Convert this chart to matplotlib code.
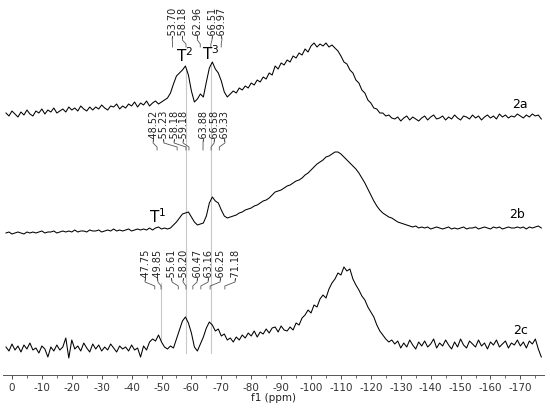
import numpy as np
import matplotlib
matplotlib.use("Agg")
import matplotlib.pyplot as plt

# chemical shift grid (ppm), one point per ppm from +2 down to -177
ppm = np.arange(2, -178, -1)

# spectrum 2a (intensity above its own baseline)
spec_2a = [
    6, 3, 8, 5, 2, 7, 4, 9, 5, 3,
    8, 6, 10, 5, 9, 7, 11, 6, 8, 10,
    7, 12, 9, 11, 8, 13, 10, 8, 12, 9,
    12, 10, 14, 11, 9, 13, 12, 15, 10, 13,
    11, 15, 13, 17, 12, 16, 14, 18, 13, 16,
    18, 15, 17, 19, 21, 26, 35, 43, 46, 49,
    53, 44, 28, 17, 20, 25, 22, 37, 51, 57,
    50, 46, 38, 27, 22, 25, 28, 26, 31, 29,
    33, 31, 36, 34, 39, 37, 42, 40, 46, 44,
    53, 50, 56, 54, 59, 57, 63, 61, 66, 64,
    70, 67, 73, 76, 72, 75, 73, 76, 72, 74,
    71, 68, 63, 57, 55, 49, 46, 39, 36, 29,
    26, 19, 16, 11, 10, 6, 6, 3, 4, 1,
    0, 2, -2, 1, 3, -1, 2, 0, -2, 1,
    3, -1, 2, 4, 0, 1, 3, -1, 2, 0,
    4, 1, -1, 3, 2, 0, 4, 1, 3, -1,
    2, 4, 1, 3, 0, 5, 2, 4, 1, 3,
    2, 5, 3, 1, 4, 2, 5, 3, 4, 0,
]

# spectrum 2b
spec_2b = [
    -5, -4, -6, -5, -4, -5, -6, -4, -5, -4,
    -5, -4, -3, -5, -4, -4, -3, -5, -4, -3,
    -4, -3, -4, -2, -4, -3, -3, -4, -2, -3,
    -3, -2, -4, -3, -2, -3, -1, -3, -2, -3,
    -2, -1, -3, -2, -1, -2, -1, -2, 0, -2,
    0, 1, -1, 0, -1, 0, 3, 6, 10, 14,
    15, 16, 11, 6, 3, 4, 5, 12, 25, 31,
    27, 25, 18, 12, 10, 11, 12, 13, 15, 16,
    18, 19, 20, 22, 23, 25, 27, 28, 30, 33,
    36, 37, 38, 40, 42, 43, 45, 47, 48, 50,
    53, 55, 58, 61, 64, 66, 68, 71, 72, 74,
    76, 76, 74, 71, 68, 65, 62, 59, 55, 50,
    45, 39, 33, 27, 22, 18, 15, 13, 11, 10,
    8, 6, 5, 4, 3, 2, 1, 2, 0, 1,
    0, 1, -1, 0, 1, 0, -1, 0, 1, -1,
    0, -1, 0, 1, -1, 0, 0, 1, -1, 0,
    1, 0, -1, 1, 0, 1, -1, 0, 1, 0,
    0, 1, 0, 1, -1, 1, 0, 1, 2, 0,
]

# spectrum 2c
spec_2c = [
    -2, -6, 1, -5, -1, -7, 0, -4, 2, -5,
    -3, -8, -1, -4, -12, -2, -6, 0, -5, -2,
    7, -13, 5, -4, -1, -6, 2, -3, -7, 1,
    -4, 0, -6, -2, -5, 1, -3, -7, -1, -4,
    -2, -6, 0, -5, -3, -12, -1, -5, 3, 6,
    4, 10, 3, -2, -4, -1, -3, 6, 15, 24,
    28, 22, 12, -2, -6, 1, 8, 17, 23, 20,
    14, 16, 9, 11, 5, 7, 3, 8, 5, 10,
    7, 12, 9, 14, 8, 13, 11, 16, 12, 17,
    18, 13, 19, 15, 14, 18, 15, 22, 20, 27,
    30, 35, 32, 40, 38, 46, 50, 47, 56, 62,
    66, 72, 70, 78, 74, 76, 66, 60, 55, 49,
    45, 38, 33, 28, 20, 14, 10, 6, 3, 5,
    1, 4, -3, 2, -2, 5, 0, -4, 3, -1,
    4, -2, 1, 6, -3, 2, -1, 5, 0, -4,
    3, -2, 6, 0, -3, 4, 1, -2, 5, -1,
    2, -4, 3, 0, 5, -2, 1, 4, -3, 2,
    0, 5, -1, 3, -3, 4, 1, 6, -4, -12,
]

# peak picks
peaks_2a = [-53.70, -58.18, -62.96, -66.51, -69.97]
peaks_2b = [-48.52, -55.23, -58.18, -59.18, -63.88, -66.58, -69.33]
peaks_2c = [-47.75, -49.85, -55.61, -58.20, -60.47, -63.16, -66.25, -71.18]

# where the labels sit (spread apart so they don't overlap)
labx_2a = [-53.6, -57.0, -62.0, -66.9, -70.2]
labx_2b = [-47.2, -50.8, -54.2, -57.2, -63.9, -67.6, -71.2]
labx_2c = [-44.5, -48.8, -53.5, -57.2, -61.9, -65.6, -69.6, -74.6]

names = ["2a", "2b", "2c"]
offsets = [256, 147, 30]
label_bottom = [337, 234, 95]

fig = plt.figure(figsize=(5.5, 4.09), dpi=100)
ax = fig.add_axes([3 / 550, 34 / 409, 541 / 550, 375 / 409])

spectra = [spec_2a, spec_2b, spec_2c]
for spec, off in zip(spectra, offsets):
    ax.plot(ppm, np.array(spec) + off, color="black", lw=0.75, zorder=3)

# gray guide lines through the T2 / T3 / T1 positions
ax.plot([-58.18, -58.18], [22, 305], color="#c8c8c8", lw=0.8, zorder=1)
ax.plot([-66.51, -66.51], [22, 310], color="#c8c8c8", lw=0.8, zorder=1)
ax.plot([-49.85, -49.85], [35, 92], color="#c8c8c8", lw=0.8, zorder=1)

# peak labels with bent leaders
all_peaks = [peaks_2a, peaks_2b, peaks_2c]
all_labx = [labx_2a, labx_2b, labx_2c]
for peaks, labx, yb in zip(all_peaks, all_labx, label_bottom):
    for p, lx in zip(peaks, labx):
        ax.text(lx, yb, "-%.2f" % abs(p), rotation=90, ha="center", va="bottom",
                fontsize=7, color="#222222")
        ax.plot([lx, lx, p, p], [yb, yb - 2, yb - 6, yb - 9],
                color="#555555", lw=0.6, zorder=2)

ax.text(-57.6, 319, "T$^2$", fontsize=11, ha="center", va="center")
ax.text(-66.6, 321, "T$^3$", fontsize=11, ha="center", va="center")
ax.text(-48.6, 158, "T$^1$", fontsize=11, ha="center", va="center")

ax.text(-170, 270, "2a", fontsize=9, ha="center", va="center")
ax.text(-169, 160, "2b", fontsize=9, ha="center", va="center")
ax.text(-170, 45, "2c", fontsize=9, ha="center", va="center")

ax.set_xlim(3, -177.9)
ax.set_ylim(0, 375)
ax.set_xticks(np.arange(0, -171, -10))
ax.set_xticklabels([str(t) for t in range(0, -171, -10)])
ax.set_xticks(np.arange(0, -176, -5), minor=True)
ax.tick_params(axis="x", which="major", length=3, width=0.6, labelsize=7.5,
               colors="#333333", pad=3)
ax.tick_params(axis="x", which="minor", length=2, width=0.5, colors="#333333")
ax.set_yticks([])
for s in ["left", "right", "top"]:
    ax.spines[s].set_visible(False)
ax.spines["bottom"].set_color("#555555")
ax.spines["bottom"].set_linewidth(0.7)
ax.set_xlabel("f1 (ppm)", fontsize=7.5, labelpad=0, color="#222222")
ax.patch.set_alpha(0)

fig.savefig("out.png", dpi=100)
